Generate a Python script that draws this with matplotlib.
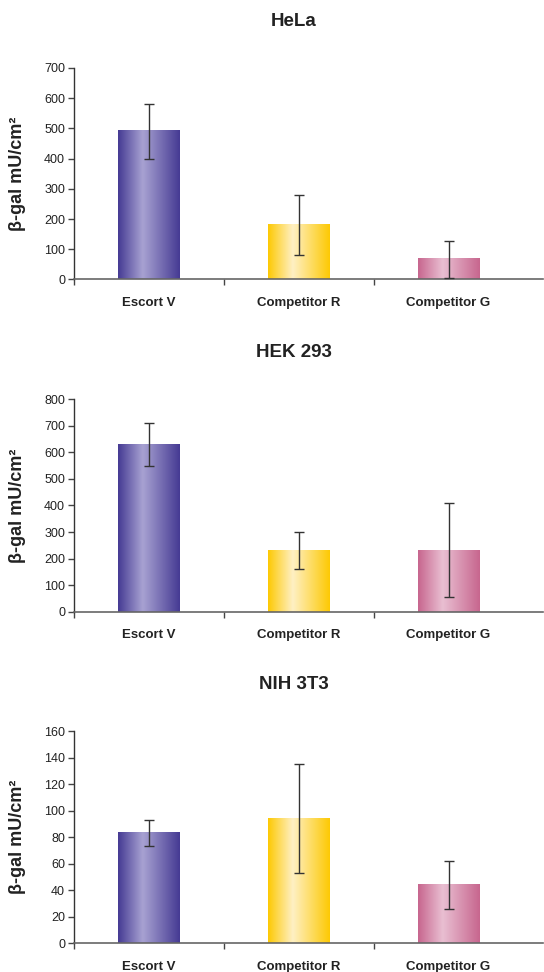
import numpy as np
import matplotlib
matplotlib.use("Agg")
import matplotlib.pyplot as plt
from matplotlib.colors import LinearSegmentedColormap

plt.rcParams['font.family'] = ['Liberation Sans', 'DejaVu Sans']

# данные
categories = ["Escort V", "Competitor R", "Competitor G"]
panel_titles = ["HeLa", "HEK 293", "NIH 3T3"]

hela_mean = [490, 180, 67]
hela_err = [92, 100, 61]

hek_mean = [630, 232, 232]
hek_err = [82, 70, 177]

nih_mean = [83, 94, 44]
nih_err = [10, 41, 18]

y_max = [700, 800, 160]
y_step = [100, 100, 20]

# цвета: край и светлая середина градиента
edge_colors = ["#453a93", "#fdc903", "#c7668e"]
light_colors = ["#a8a2d2", "#fff0c4", "#e9bfd2"]

text_color = "#222222"

fig = plt.figure(figsize=(5.44, 9.72), dpi=100)

W, H = 544, 972
left_px, right_px = 73.5, 543
axes_px = [(68, 279.5), (399.3, 611.7), (731, 943.3)]
title_px = [22, 352, 684]

means = [hela_mean, hek_mean, nih_mean]
errs = [hela_err, hek_err, nih_err]

x = np.arange(len(categories))
bar_w = 0.41
x_right = (right_px - left_px) / 150 - 0.5


def gradient_bar(ax, bar, c_edge, c_light):
    cmap = LinearSegmentedColormap.from_list(
        "g", [(0, c_edge), (0.4, c_light), (1.0, c_edge)])
    grad = np.linspace(0, 1, 256).reshape(1, -1)
    bx, bw, bh = bar.get_x(), bar.get_width(), bar.get_height()
    ax.imshow(grad, cmap=cmap, aspect="auto",
              extent=[bx, bx + bw, 0, bh], zorder=2, interpolation="bicubic")
    bar.set_facecolor("none")


for i in range(3):
    top, bot = axes_px[i]
    ax = fig.add_axes([left_px / W, 1 - bot / H,
                       (right_px - left_px) / W, (bot - top) / H])

    bars = ax.bar(x, means[i], width=bar_w, color="none", zorder=2)
    for b, ce, cl in zip(bars, edge_colors, light_colors):
        gradient_bar(ax, b, ce, cl)

    ax.errorbar(x, means[i], yerr=errs[i], fmt="none", ecolor="#333333",
                elinewidth=1, capsize=3.4, capthick=1, zorder=3)

    ax.set_xlim(-0.5, x_right)
    ax.set_ylim(0, y_max[i])
    ax.set_yticks(np.arange(0, y_max[i] + 1, y_step[i]))

    ax.set_xticks(x)
    ax.set_xticklabels(categories, fontsize=9.5, fontweight="bold",
                       color=text_color)
    ax.set_xticks([-0.5, 0.5, 1.5], minor=True)
    ax.tick_params(axis="x", which="major", length=0, pad=12.5)
    ax.tick_params(axis="x", which="minor", length=4, width=1,
                   color="#444444", direction="out")
    ax.tick_params(axis="y", length=4, width=1, color="#444444",
                   labelsize=9, labelcolor=text_color, pad=2)

    for s in ["top", "right"]:
        ax.spines[s].set_visible(False)
    ax.spines["left"].set_color("#333333")
    ax.spines["bottom"].set_color("#666666")
    ax.spines["left"].set_linewidth(1)
    ax.spines["bottom"].set_linewidth(1.2)

    ax.set_ylabel("β-gal mU/cm²", fontsize=13, fontweight="bold",
                  color=text_color)
    ax.yaxis.set_label_coords(-(left_px - 26) / (right_px - left_px), 0.5)

    fig.text(294 / W, 1 - title_px[i] / H, panel_titles[i], fontsize=13.5,
             fontweight="bold", color=text_color, ha="center", va="center")

fig.savefig("out.png", dpi=100)
